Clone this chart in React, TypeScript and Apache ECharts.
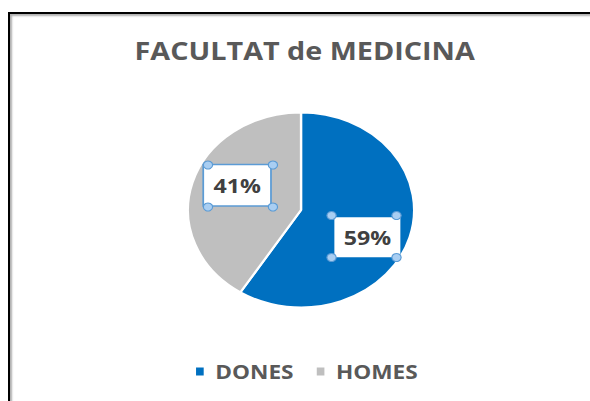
import React, { useEffect, useRef } from "react";
import * as echarts from "echarts";

const categories = ["DONES", "HOMES"];
const values = [59, 41];
const colors = ["#0070C0", "#BFBFBF"];
const titleText = "FACULTAT de MEDICINA";

const STRETCH = 1.16;
const W = 590 / STRETCH;
const H = 401;
const CX = 259.5;
const CY = 210;
const R = 97.5;
// label shifts relative to library's inside position
const labelShift = [
  [7.5, 12.9],
  [-5.4, -10.4],
];
const BOX_HALF_W = 28;
const BOX_HALF_H = 21;

export default function App() {
  const ref = useRef<HTMLDivElement>(null);
  useEffect(() => {
    if (!ref.current) return;
    const chart = echarts.init(ref.current, undefined, { renderer: "svg" });
    const total = values.reduce((a, b) => a + b, 0);
    // handle positions derived from data angles
    const handles: any[] = [];
    let acc = 0;
    values.forEach((v, i) => {
      const mid = ((acc + v / 2) / total) * Math.PI * 2;
      acc += v;
      const lx = CX + (R / 2) * Math.sin(mid) + labelShift[i][0];
      const ly = CY - (R / 2) * Math.cos(mid) + labelShift[i][1];
      [
        [-1, -1],
        [1, -1],
        [-1, 1],
        [1, 1],
      ].forEach(([sx, sy]) => {
        handles.push({
          type: "circle",
          shape: { cx: lx + sx * BOX_HALF_W, cy: ly + sy * BOX_HALF_H, r: 4 },
          style: { fill: "#A9CEF2", stroke: "#5B9BD5", lineWidth: 1 },
          z: 100,
        });
      });
    });
    chart.setOption({
      animation: false,
      backgroundColor: "transparent",
      title: {
        text: titleText,
        left: 116,
        top: 38,
        padding: 0,
        textStyle: {
          fontFamily: "Open Sans",
          fontWeight: "bold",
          fontSize: 24.8,
          color: "#595959",
        },
      },
      legend: {
        data: categories,
        left: 167,
        top: 361.5,
        padding: 0,
        itemWidth: 8.6,
        itemHeight: 10,
        itemGap: 18,
        icon: "rect",
        textStyle: {
          fontFamily: "Open Sans",
          fontWeight: "bold",
          fontSize: 19.5,
          color: "#595959",
          padding: [0, 0, 0, 4],
        },
      },
      graphic: handles,
      series: [
        {
          type: "pie",
          center: [CX, CY],
          radius: R,
          startAngle: 90,
          clockwise: true,
          itemStyle: { borderColor: "#fff", borderWidth: 2 },
          label: {
            show: true,
            position: "inside",
            formatter: "{d}%",
            fontFamily: "Open Sans",
            fontWeight: "bold",
            fontSize: 20,
            color: "#404040",
            backgroundColor: "#fff",
            padding: [10, 8],
          },
          labelLine: { show: false },
          labelLayout: (p: any) => ({
            dx: labelShift[p.dataIndex][0],
            dy: labelShift[p.dataIndex][1],
          }),
          emphasis: { disabled: true },
          data: categories.map((name, i) => ({
            name,
            value: values[i],
            itemStyle: { color: colors[i] },
            label:
              i === 1
                ? { borderColor: "#5B9BD5", borderWidth: 1.5 }
                : {},
          })),
        },
      ],
    });
    return () => chart.dispose();
  }, []);
  return (
    <div
      style={{
        position: "fixed",
        left: 0,
        top: 0,
        width: 590,
        height: 401,
        background: "#fff",
        overflow: "hidden",
      }}
    >
      <div
        style={{
          position: "absolute",
          left: 8,
          top: 12,
          width: 620,
          height: 420,
          borderTop: "2px solid #000",
          borderLeft: "2px solid #000",
          boxShadow: "inset 2px 2px 2px #b0b0b0",
        }}
      />
      <div
        ref={ref}
        style={{
          position: "absolute",
          left: 0,
          top: 0,
          width: W,
          height: H,
          transform: `scaleX(${STRETCH})`,
          transformOrigin: "0 0",
        }}
      />
    </div>
  );
}
